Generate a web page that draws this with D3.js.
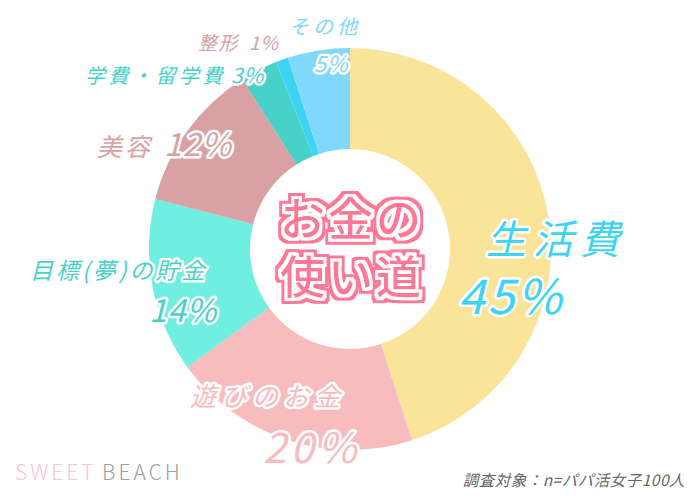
<!DOCTYPE html>
<html><head><meta charset="utf-8">
<script src="https://cdn.jsdelivr.net/npm/d3@7/dist/d3.min.js"></script>
<style>
html,body{margin:0;padding:0;background:#fff;}
svg{display:block;}
text{font-family:"Noto Sans CJK JP","Noto Sans",sans-serif;}
</style></head>
<body>
<script>
const categories = ["生活費","遊びのお金","目標(夢)の貯金","美容","学費・留学費","整形","その他"];
const values = [45,20,14,12,3,1,5];
const colors = ["#f9e499","#f8bbbe","#70eee0","#d9a1a4","#47d1c9","#3dd4f4","#80d8fc"];
const valueLabels = ["45%","20%","14%","12%","3%","1%","5%"];
const title = ["お金の","使い道"];
const caption = "調査対象：n=パパ活女子100人";

const W=700,H=500, cx=350, cy=249, R=201, r0=100;
const svg=d3.select("body").append("svg").attr("width",W).attr("height",H);

const defs=svg.append("defs");
const f=defs.append("filter").attr("id","dbl").attr("x","-20%").attr("y","-30%").attr("width","140%").attr("height","160%");
f.append("feMorphology").attr("in","SourceAlpha").attr("operator","dilate").attr("radius",6).attr("result","outer");
f.append("feFlood").attr("flood-color","#ff7896").attr("result","pk");
f.append("feComposite").attr("in","pk").attr("in2","outer").attr("operator","in").attr("result","pkOut");
f.append("feMorphology").attr("in","SourceAlpha").attr("operator","dilate").attr("radius",3).attr("result","inner");
f.append("feFlood").attr("flood-color","#ffffff").attr("result","wh");
f.append("feComposite").attr("in","wh").attr("in2","inner").attr("operator","in").attr("result","whOut");
const m=f.append("feMerge");
m.append("feMergeNode").attr("in","pkOut");
m.append("feMergeNode").attr("in","whOut");
m.append("feMergeNode").attr("in","SourceGraphic");

const pie=d3.pie().sort(null).value(d=>d)(values);
const arc=d3.arc().innerRadius(r0).outerRadius(R);
const g=svg.append("g").attr("transform",`translate(${cx},${cy})`);
g.selectAll("path").data(pie).join("path").attr("d",arc).attr("fill",(d,i)=>colors[i]);

const textColor=["#3dd4f4","#f8bbbe","#47d1c9","#d9a1a4","#47d1c9","#d9a1a4","#80d8fc"];
const layout=[
 {t:categories[0],x:486,y:254,s:40,ls:7,c:textColor[0],o:true},
 {t:valueLabels[0],x:458,y:314,s:48,ls:3,c:textColor[0],o:true},
 {t:categories[1],x:190,y:406,s:26,ls:5,c:textColor[1],o:true},
 {t:valueLabels[1],x:263,y:463,s:42,ls:4,c:textColor[1],o:true},
 {t:categories[2],x:30,y:279,s:23,ls:3,c:textColor[2],o:true},
 {t:valueLabels[2],x:149,y:322,s:32,ls:1,c:textColor[2],o:true},
 {t:categories[3],x:97,y:156,s:25,ls:3,c:textColor[3],o:true},
 {t:valueLabels[3],x:164,y:156,s:32,ls:1,c:textColor[3],o:true},
 {t:categories[4],x:85,y:83,s:20,ls:3.5,c:textColor[4],o:true},
 {t:valueLabels[4],x:231,y:83,s:21,ls:1,c:textColor[4],o:true},
 {t:categories[5],x:198,y:50,s:19,ls:1.5,c:textColor[5],o:false},
 {t:valueLabels[5],x:249,y:50,s:19,ls:1,c:textColor[5],o:false},
 {t:categories[6],x:289,y:34,s:20,ls:4,c:textColor[6],o:false},
 {t:valueLabels[6],x:314,y:72,s:22,ls:1,c:textColor[6],o:true}
];
const lg=svg.append("g");
layout.forEach(L=>{
  const t=lg.append("text").attr("x",L.x).attr("y",L.y).attr("font-size",L.s).attr("font-style","italic")
      .attr("letter-spacing",L.ls).attr("fill",L.c).text(L.t);
  if(L.o){
    t.attr("stroke","#fff").attr("stroke-width",5).attr("stroke-linejoin","round").attr("paint-order","stroke");
  }
});

const tt=svg.append("text").attr("filter","url(#dbl)").attr("text-anchor","middle").attr("font-size",45)
   .attr("font-weight",500).attr("letter-spacing",3).attr("fill","#ff7896");
title.forEach((t,i)=>{
  tt.append("tspan").attr("x",cx+2).attr("y",[236,294][i]).text(t);
});

svg.append("text").attr("x",15).attr("y",480).attr("font-family","Lato, sans-serif").attr("font-weight",300)
  .attr("font-size",21).attr("letter-spacing",3).attr("fill","#f9c4d8").text("SWEET");
svg.append("text").attr("x",102).attr("y",480).attr("font-family","Lato, sans-serif").attr("font-weight",300)
  .attr("font-size",21).attr("letter-spacing",3).attr("fill","#a0a0a0").text("BEACH");

svg.append("text").attr("x",685).attr("y",486).attr("text-anchor","end").attr("font-size",15.5).attr("font-style","italic")
  .attr("letter-spacing",0.5).attr("fill","#666").text(caption);
</script>
</body></html>
